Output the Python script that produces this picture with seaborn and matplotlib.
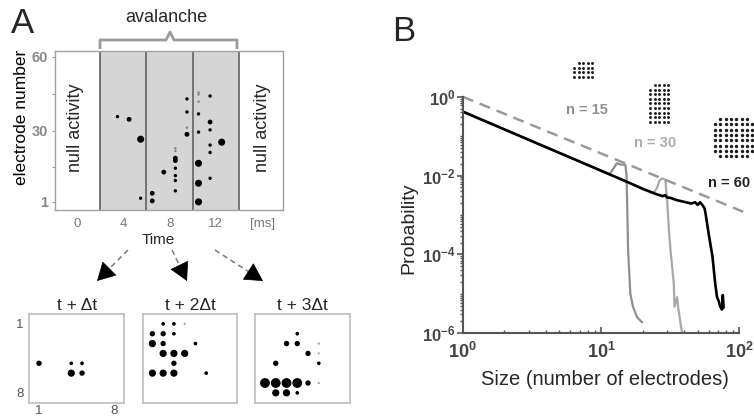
import matplotlib
matplotlib.use("Agg")
import matplotlib.pyplot as plt
import numpy as np
import pandas as pd
import seaborn as sns

# ---------------- data ----------------
# Panel A: raster of one avalanche (time [ms], electrode index, amplitude class)
raster_time = [3.5, 4.5, 5.5, 5.5, 6.5, 6.5, 7.5,
               8.5, 8.5, 8.5, 8.5, 8.5, 8.5, 8.5, 8.5,
               9.5, 9.5, 9.5, 9.5,
               10.5, 10.5, 10.5, 10.5, 10.5, 10.5, 10.5, 10.5,
               11.5, 11.5, 11.5, 11.5, 11.5, 11.5, 12.5]
raster_elec = [35.7, 34.6, 26.5, 2.5, 4.5, 1.4, 13.1,
               22.8, 21.7, 18.8, 17.8, 14.7, 11.7, 9.7, 5.5,
               42.9, 37.6, 31.2, 28.5,
               45.5, 44.7, 41.8, 36.8, 29.4, 16.7, 8.6, 1.0,
               44.1, 33.5, 30.3, 24.1, 21.1, 10.6, 25.3]
raster_amp = [2, 3, 4, 2, 3, 3, 3,
              1, 1, 3, 3, 2, 2, 2, 2,
              2, 2, 1, 3,
              1, 1, 1, 2, 2, 4, 4, 4,
              2, 3, 2, 2, 2, 2, 4]
time_ticks = [0, 4, 8, 12, 16]
time_tick_labels = ["0", "4", "8", "12", "[ms]"]
elec_ticks = [1, 30, 60]
bin_edges = [2, 6, 10, 14]

# Panel A: 8x8 electrode frames (column, row, amplitude class)
frame_titles = ["t + \u0394t", "t + 2\u0394t", "t + 3\u0394t"]
f1_col = [1, 4, 5, 4, 5]
f1_row = [5, 5, 5, 6, 6]
f1_amp = [3, 2, 2, 4, 3]
f2_col = [2, 3, 4, 1, 2, 3, 1, 2, 5, 2, 3, 4, 3, 1, 2, 3, 6]
f2_row = [1, 1, 1, 2, 2, 2, 3, 3, 3, 4, 4, 4, 5, 6, 6, 6, 6]
f2_amp = [2, 2, 1, 3, 3, 2, 4, 3, 2, 4, 4, 4, 3, 4, 4, 4, 2]
f3_col = [4, 3, 4, 6, 5, 6, 2, 6, 1, 2, 3, 4, 5, 6, 2, 3, 4]
f3_row = [2, 3, 3, 3, 4, 4, 5, 5, 7, 7, 7, 7, 7, 7, 8, 8, 8]
f3_amp = [2, 3, 3, 1, 3, 1, 3, 2, 5, 5, 5, 5, 3, 1, 4, 4, 2]

# Panel B: avalanche size distributions
n15_size = [1, 2, 3, 5, 8, 10, 11.5, 12.3, 13, 14, 15, 15.3, 15.5, 15.7, 16.3, 17, 18.2, 19.8]
n15_prob = [0.42, 0.1485, 0.0808, 0.0376, 0.0186, 0.0133, 0.0108, 0.015, 0.0204, 0.019,
            0.0187, 0.0100, 0.0013, 0.00013, 1.02e-5, 4.8e-6, 2.6e-6, 1.9e-6]
n30_size = [1, 2, 3, 5, 8, 12, 16, 20, 24, 25.5, 26.5, 27.7, 29.2, 30.1, 31, 31.8,
            33.6, 34, 35.5, 36.3, 38.6]
n30_prob = [0.42, 0.1485, 0.0808, 0.0376, 0.0186, 0.0101, 0.00656, 0.0047, 0.0036,
            0.0050, 0.0075, 0.0085, 0.0078, 0.0023, 0.0004, 0.00013, 1.86e-5, 4.7e-6,
            8.3e-6, 4.0e-6, 1.0e-6]
n60_size = [1, 2, 3, 5, 8, 12, 16, 20, 25, 28, 29, 30, 32, 35, 40, 45, 48, 50, 52, 54,
            56, 57, 60, 64, 67, 69, 71, 73, 75, 76, 77]
n60_prob = [0.42, 0.1485, 0.0808, 0.0376, 0.0186, 0.0101, 0.00656, 0.0046, 0.0034,
            0.0030, 0.0032, 0.0028, 0.0027, 0.0024, 0.00215, 0.00195, 0.0021, 0.0018,
            0.0021, 0.0018, 0.0015, 0.0011, 0.00034, 8.7e-5, 1.8e-5, 8.3e-6, 6.5e-6,
            4.7e-6, 4.0e-6, 9.3e-6, 4.5e-6]
ref_size = [1, 114]
ref_prob = [1.0, 1.1e-3]
size_ticks = [1, 10, 100]
size_tick_labels = [r"$\mathbf{10^{0}}$", r"$\mathbf{10^{1}}$", r"$\mathbf{10^{2}}$"]
prob_ticks = [1e-6, 1e-4, 1e-2, 1]
prob_tick_labels = [r"$\mathbf{10^{-6}}$", r"$\mathbf{10^{-4}}$", r"$\mathbf{10^{-2}}$", r"$\mathbf{10^{0}}$"]

# ---------------- style ----------------
sns.set_theme(style="white")
plt.rcParams["font.family"] = ["Liberation Sans", "DejaVu Sans"]
plt.rcParams["mathtext.fontset"] = "custom"
plt.rcParams["mathtext.rm"] = "Liberation Sans"
plt.rcParams["mathtext.bf"] = "Liberation Sans:bold"
plt.rcParams["mathtext.it"] = "Liberation Sans:italic"

W, H = 754, 420
fig = plt.figure(figsize=(W / 100, H / 100), dpi=100)


def px_rect(l, t, r, b):
    return [l / W, 1 - b / H, (r - l) / W, (b - t) / H]


# ---------------- Panel A raster ----------------
axA = fig.add_axes(px_rect(55, 51, 283, 210))
axA.axvspan(bin_edges[0], bin_edges[-1], color="#d5d5d5", zorder=0, lw=0)
for e in bin_edges:
    axA.axvline(e, color="#6a6a6a", lw=1.3, zorder=1)
dfA = pd.DataFrame({"time": raster_time, "elec": raster_elec, "amp": raster_amp})
sns.scatterplot(data=dfA, x="time", y="elec", size="amp", hue="amp",
                sizes={1: 3, 2: 6, 3: 12, 4: 26},
                palette={1: "#808080", 2: "black", 3: "black", 4: "black"},
                linewidth=0, legend=False, ax=axA, zorder=3)
axA.set_xlim(-1.9, 17.8)
axA.set_ylim(-2.3, 62.4)
axA.set_xticks(time_ticks)
axA.set_xticklabels(time_tick_labels)
axA.set_yticks(elec_ticks)
axA.set_yticklabels([str(v) for v in elec_ticks], fontweight="bold")
axA.set_yticks([15, 45], minor=True)
axA.tick_params(axis="x", length=2, width=0.8, colors="#999999", labelcolor="#777777",
                labelsize=9.5, pad=3.5)
axA.tick_params(axis="y", which="both", length=2, width=0.8, colors="#999999",
                labelcolor="#888888", labelsize=10.5, pad=3, left=True)
for s in axA.spines.values():
    s.set_color("#a0a0a0")
    s.set_linewidth(1.0)
axA.set_xlabel("")
axA.set_ylabel("electrode number", fontsize=12.5, color="black")
axA.yaxis.set_label_coords(-0.115, 0.58)
axA.text(-0.17, 31, "null activity", rotation=90, ha="center", va="center", fontsize=13)
axA.text(16.0, 31, "null activity", rotation=90, ha="center", va="center", fontsize=13)

# ---------------- Panel A frames ----------------
frames = [(f1_col, f1_row, f1_amp), (f2_col, f2_row, f2_amp), (f3_col, f3_row, f3_amp)]
frame_lefts = [29.3, 142.7, 255.3]
for i, ((cols, rows, amps), left) in enumerate(zip(frames, frame_lefts)):
    ax = fig.add_axes(px_rect(left, 314, left + 94.7, 402.7))
    dff = pd.DataFrame({"col": cols, "row": rows, "amp": amps})
    sns.scatterplot(data=dff, x="col", y="row", size="amp", hue="amp",
                    sizes={1: 2.5, 2: 7, 3: 15, 4: 27, 5: 50},
                    palette={1: "#a0a0a0", 2: "black", 3: "black", 4: "black", 5: "black"},
                    linewidth=0, legend=False, ax=ax)
    ax.set_xlim(0.1, 8.9)
    ax.set_ylim(9, 0)
    ax.set_xlabel("")
    ax.set_ylabel("")
    ax.set_title(frame_titles[i], fontsize=12.5, pad=3)
    for s in ax.spines.values():
        s.set_color("#bdbdbd")
        s.set_linewidth(1.2)
    if i == 0:
        ax.set_xticks([1, 8])
        ax.set_yticks([1, 8])
        ax.tick_params(axis="y", length=0, labelsize=9.5, labelcolor="#555555", pad=4)
        ax.tick_params(axis="x", length=0, labelsize=9.5, labelcolor="#555555", pad=1.5)
    else:
        ax.set_xticks([])
        ax.set_yticks([])

# ---------------- Panel B ----------------
axB = fig.add_axes(px_rect(462.7, 96.7, 739.3, 333.3))
axB.set_xscale("log")
axB.set_yscale("log")
sns.lineplot(x=n30_size, y=n30_prob, sort=False, estimator=None, color="#a8a8a8", lw=1.6, ax=axB)
sns.lineplot(x=n15_size, y=n15_prob, sort=False, estimator=None, color="#8f8f8f", lw=1.6, ax=axB)
sns.lineplot(x=n60_size, y=n60_prob, sort=False, estimator=None, color="black", lw=1.9, ax=axB)
sns.lineplot(x=ref_size, y=ref_prob, sort=False, estimator=None, color="#9a9a9a", lw=1.8,
             linestyle=(0, (4.5, 2.8)), clip_on=False, ax=axB)
axB.set_xlim(1, 100)
axB.set_ylim(1e-6, 1)
axB.set_xticks(size_ticks)
axB.set_xticklabels(size_tick_labels)
axB.set_yticks(prob_ticks)
axB.set_yticklabels(prob_tick_labels)
minor_x = [m * d for d in [1, 10] for m in range(2, 10)]
minor_y = [m * 10.0 ** d for d in range(-6, 0) for m in range(1, 10) if not (m == 1 and d % 2 == 0)]
axB.set_xticks(minor_x, minor=True)
axB.set_yticks(minor_y, minor=True)
axB.set_xticklabels([], minor=True)
axB.set_yticklabels([], minor=True)
sns.despine(ax=axB)
for s in ["left", "bottom"]:
    axB.spines[s].set_color("#555555")
    axB.spines[s].set_linewidth(1.5)
axB.tick_params(axis="x", which="major", direction="in", length=4, width=1.2,
                colors="#555555", labelcolor="#444444", labelsize=13, pad=6)
axB.tick_params(axis="x", which="minor", direction="in", length=2.5, width=1.0, colors="#555555")
axB.tick_params(axis="y", which="major", direction="out", length=4, width=1.2,
                colors="#555555", labelcolor="#444444", labelsize=12, pad=1, left=True)
axB.tick_params(axis="y", which="minor", direction="out", length=2.5, width=1.0,
                colors="#555555", left=True)
axB.tick_params(axis="x", which="both", bottom=True)
axB.set_xlabel("Size (number of electrodes)", fontsize=14.5)
axB.xaxis.set_label_coords(0.514, -0.155)
axB.set_ylabel("Probability", fontsize=14)
axB.yaxis.set_label_coords(-0.165, 0.443)

# ---------------- overlay annotations ----------------
ov = fig.add_axes([0, 0, 1, 1], zorder=10)
ov.set_xlim(0, W)
ov.set_ylim(H, 0)
ov.axis("off")

ov.text(11, 33, "A", fontsize=25, ha="left", va="baseline")
ov.text(392, 41, "B", fontsize=25, ha="left", va="baseline")
ov.text(166, 18, "avalanche", fontsize=13, ha="center", va="center")
ov.plot([100, 100, 166, 170, 174, 237, 237], [49, 40, 40, 32, 40, 40, 49],
        color="#9a9a9a", lw=2.0, solid_joinstyle="round", solid_capstyle="butt")
ov.text(158, 240, "Time", fontsize=11, ha="center", va="center")

arrows = [((128, 250), (97, 281)), ((172, 250), (187, 281)), ((215, 250), (263, 281))]
for (x0, y0), (x1, y1) in arrows:
    dx, dy = x1 - x0, y1 - y0
    L = np.hypot(dx, dy)
    ux, uy = dx / L, dy / L
    hx, hy = x1 - ux * 11, y1 - uy * 11
    ov.plot([x0, hx], [y0, hy], color="#7a7a7a", lw=1.1, linestyle=(0, (3.5, 2.5)))
    ov.annotate("", xy=(x1, y1), xytext=(hx - ux * 0.5, hy - uy * 0.5),
                arrowprops=dict(arrowstyle="-|>,head_length=1.0,head_width=0.55",
                                color="black", lw=0.5, shrinkA=0, shrinkB=0,
                                mutation_scale=12))

# electrode-array icons
def icon(x0, y0, ncol, nrow, sp, skip, s):
    xs, ys = [], []
    for r in range(nrow):
        for c in range(ncol):
            if (c, r) in skip:
                continue
            xs.append(x0 + c * sp)
            ys.append(y0 + r * sp)
    ov.scatter(xs, ys, s=s, color="#1e1e1e", linewidths=0)

icon(574, 63, 5, 4, 4.6, {(0, 0)}, 4.5)
icon(650, 85, 5, 9, 4.6, {(0, 0)}, 4.5)
icon(715, 119, 8, 8, 5.3, {(0, 0), (7, 0), (0, 7), (7, 7)}, 6)

ov.text(586.7, 110, "n = 15", fontsize=10.5, fontweight="bold", color="#8f8f8f",
        ha="center", va="center")
ov.text(655, 143, "n = 30", fontsize=10.5, fontweight="bold", color="#acacac",
        ha="center", va="center")
ov.text(729, 183, "n = 60", fontsize=10.5, fontweight="bold", color="#222222",
        ha="center", va="center")

fig.savefig("out.png", dpi=100)
